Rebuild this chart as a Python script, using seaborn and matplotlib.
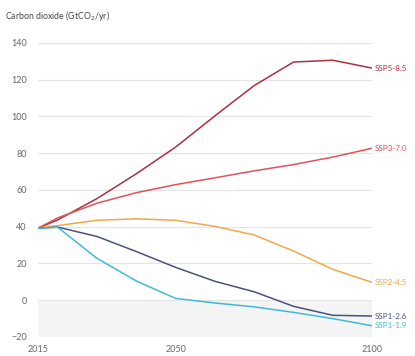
import matplotlib
matplotlib.use("Agg")
from matplotlib import pyplot as plt
import numpy as np
import pandas as pd
import seaborn as sns

years = [2015, 2020, 2030, 2040, 2050, 2060, 2070, 2080, 2090, 2100]
ssp585 = [39.2, 43.7, 55.3, 68.8, 83.3, 100.3, 116.8, 129.6, 130.6, 126.3]
ssp370 = [39.2, 44.8, 52.8, 58.5, 62.9, 66.6, 70.4, 73.8, 77.9, 82.7]
ssp245 = [39.2, 40.6, 43.5, 44.3, 43.5, 40.2, 35.5, 26.8, 16.8, 9.7]
ssp126 = [39.2, 39.8, 34.7, 26.5, 17.9, 10.3, 4.6, -3.3, -8.2, -8.6]
ssp119 = [39.2, 39.7, 22.8, 10.5, 1.0, -1.5, -3.6, -6.6, -10.0, -13.9]
scenarios = ["SSP5-8.5", "SSP3-7.0", "SSP2-4.5", "SSP1-2.6", "SSP1-1.9"]
yticks = [-20, 0, 20, 40, 60, 80, 100, 120, 140]
xticks = [2015, 2050, 2100]

colors = {"SSP5-8.5": "#a8323f", "SSP3-7.0": "#e3515a", "SSP2-4.5": "#f5a64a",
          "SSP1-2.6": "#48527e", "SSP1-1.9": "#3fbad6"}

series = [ssp585, ssp370, ssp245, ssp126, ssp119]
rows = []
for name, vals in zip(scenarios, series):
    for y, v in zip(years, vals):
        rows.append({"year": y, "value": v, "scenario": name})
df = pd.DataFrame(rows)

sns.set_style("white")
plt.rcParams['font.family'] = ['Lato', 'DejaVu Sans']

fig = plt.figure(figsize=(4.15, 3.56), dpi=100)
ax = fig.add_axes([0.0916, 0.0534, 0.805, 0.826])

ax.axhspan(-20, 0, color="#f4f4f4", zorder=0, lw=0)
for t in yticks:
    ax.axhline(t, color="#e4e4e4", lw=0.8, zorder=0.5)

sns.lineplot(data=df, x="year", y="value", hue="scenario", palette=colors,
             hue_order=scenarios, ax=ax, legend=False, lw=1.1, zorder=3)

for name, vals in zip(scenarios, series):
    ax.text(2100.8, vals[-1], name, color=colors[name], fontsize=5.8,
            va="center", ha="left")

ax.set_xlim(2015, 2100)
ax.set_ylim(-20, 140)
ax.set_xticks(xticks)
ax.set_xticks(list(range(2020, 2100, 5)), minor=True)
ax.set_yticks(yticks)
ax.set_xlabel("")
ax.set_ylabel("")
ax.tick_params(axis="both", labelsize=6.5, labelcolor="#666666", length=0, pad=8)
ax.tick_params(axis="x", which="major", length=3, color="#cccccc", pad=3)
ax.tick_params(axis="x", which="minor", length=2, color="#e0e0e0")
for s in ax.spines.values():
    s.set_visible(False)

fig.text(0.012, 0.955, "Carbon dioxide (GtCO$_2$/yr)", fontsize=6.3, color="#444444",
         ha="left", va="center")

fig.savefig("out.png", dpi=100)
